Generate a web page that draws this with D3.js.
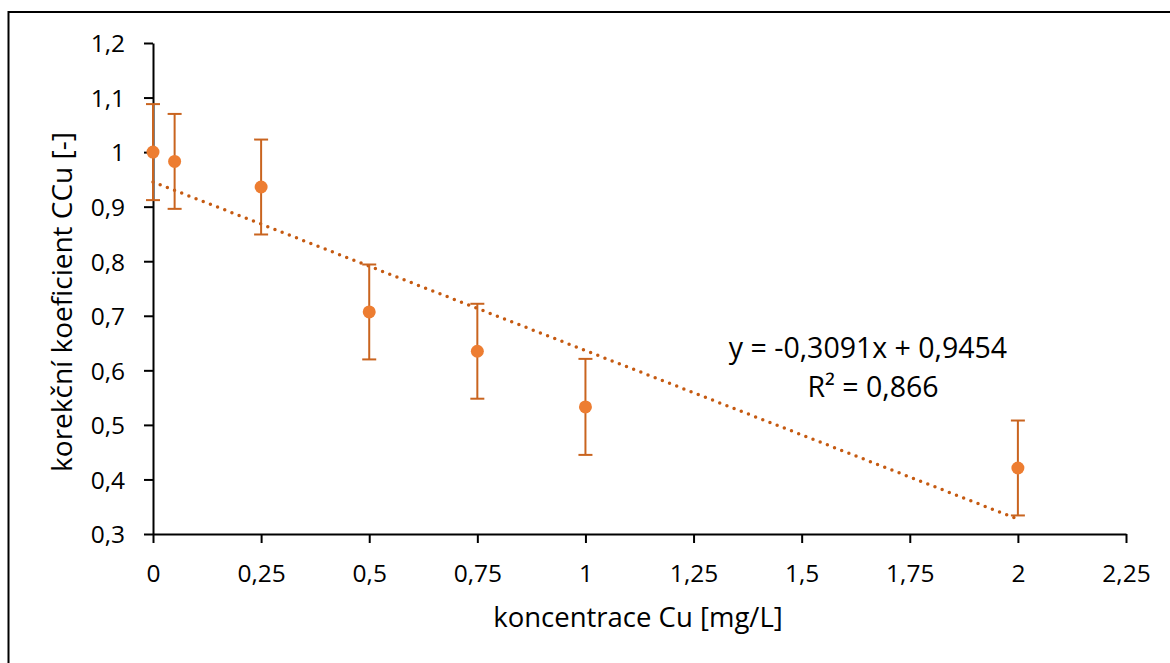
<!DOCTYPE html>
<html><head><meta charset="utf-8">
<script src="https://cdn.jsdelivr.net/npm/d3@7"></script>
<style>body{margin:0;background:#fff}svg{display:block}text{font-family:"Open Sans","Noto Sans",sans-serif;fill:#000}</style>
</head><body><svg id="c" width="1170" height="663"></svg>
<script>
const xValues = [0, 0.05, 0.25, 0.5, 0.75, 1, 2];
const yValues = [1.0, 0.983, 0.936, 0.707, 0.635, 0.533, 0.421];
const yErrors = [0.088, 0.087, 0.087, 0.087, 0.087, 0.088, 0.087];
const xTicks = [0, 0.25, 0.5, 0.75, 1, 1.25, 1.5, 1.75, 2, 2.25];
const yTicks = [0.3, 0.4, 0.5, 0.6, 0.7, 0.8, 0.9, 1.0, 1.1, 1.2];
const slope = -0.3091, intercept = 0.9454;
const eqLabel = "y = -0,3091x + 0,9454";
const r2Label = "R² = 0,866";
const xTitle = "koncentrace Cu [mg/L]";
const yTitle = "korekční koeficient CCu [-]";

const svg = d3.select("#c");
const fmt = d => String(+d.toFixed(2)).replace(".", ",");
svg.append("rect").attr("x",8.5).attr("y",12).attr("width",1200).attr("height",700)
  .attr("fill","none").attr("stroke","#000").attr("stroke-width",2);

const x = d3.scaleLinear().domain([0,2.25]).range([153,1126]);
const y = d3.scaleLinear().domain([0.3,1.2]).range([534,43]);

const gx = svg.append("g").attr("transform","translate(0,534)")
  .call(d3.axisBottom(x).tickValues(xTicks).tickFormat(fmt).tickSize(9).tickSizeOuter(0));
const gy = svg.append("g").attr("transform","translate(153,0)")
  .call(d3.axisLeft(y).tickValues(yTicks).tickFormat(fmt).tickSize(9).tickSizeOuter(0));
[gx,gy].forEach(g=>{
  g.selectAll("path,line").attr("stroke","#000").attr("stroke-width",2);
  g.selectAll("text").attr("font-size",24.5).attr("font-family","'Open Sans','Noto Sans',sans-serif");
});
gx.selectAll("text").attr("y",48).attr("dy",0);
gy.selectAll("text").attr("x",-28).attr("dy","0.36em");

// trendline
svg.append("line").attr("x1",x(0)).attr("y1",y(intercept)).attr("x2",x(2)).attr("y2",y(slope*2+intercept))
  .attr("stroke","#C55A11").attr("stroke-width",3.5).attr("stroke-linecap","round").attr("stroke-dasharray","0,7.7");

const data = xValues.map((v,i)=>({x:v,y:yValues[i],e:yErrors[i]}));
const eb = svg.append("g").attr("stroke","#C9641F").attr("stroke-width",2);
data.forEach(d=>{
  eb.append("line").attr("x1",x(d.x)).attr("x2",x(d.x)).attr("y1",y(d.y+d.e)).attr("y2",y(d.y-d.e));
  [d.y+d.e,d.y-d.e].forEach(v=>eb.append("line").attr("x1",x(d.x)-7).attr("x2",x(d.x)+7).attr("y1",y(v)).attr("y2",y(v)));
});
svg.append("g").selectAll("circle").data(data).join("circle")
  .attr("cx",d=>x(d.x)).attr("cy",d=>y(d.y)).attr("r",6.5).attr("fill","#ED7D31");

svg.append("text").attr("x",868).attr("y",358).attr("text-anchor","middle").attr("font-size",28.5).text(eqLabel);
svg.append("text").attr("x",873).attr("y",397).attr("text-anchor","middle").attr("font-size",28.5).text(r2Label);
svg.append("text").attr("x",638).attr("y",627).attr("text-anchor","middle").attr("font-size",27.5).text(xTitle);
svg.append("text").attr("transform","translate(72,302) rotate(-90)").attr("text-anchor","middle").attr("font-size",28).text(yTitle);
</script></body></html>
